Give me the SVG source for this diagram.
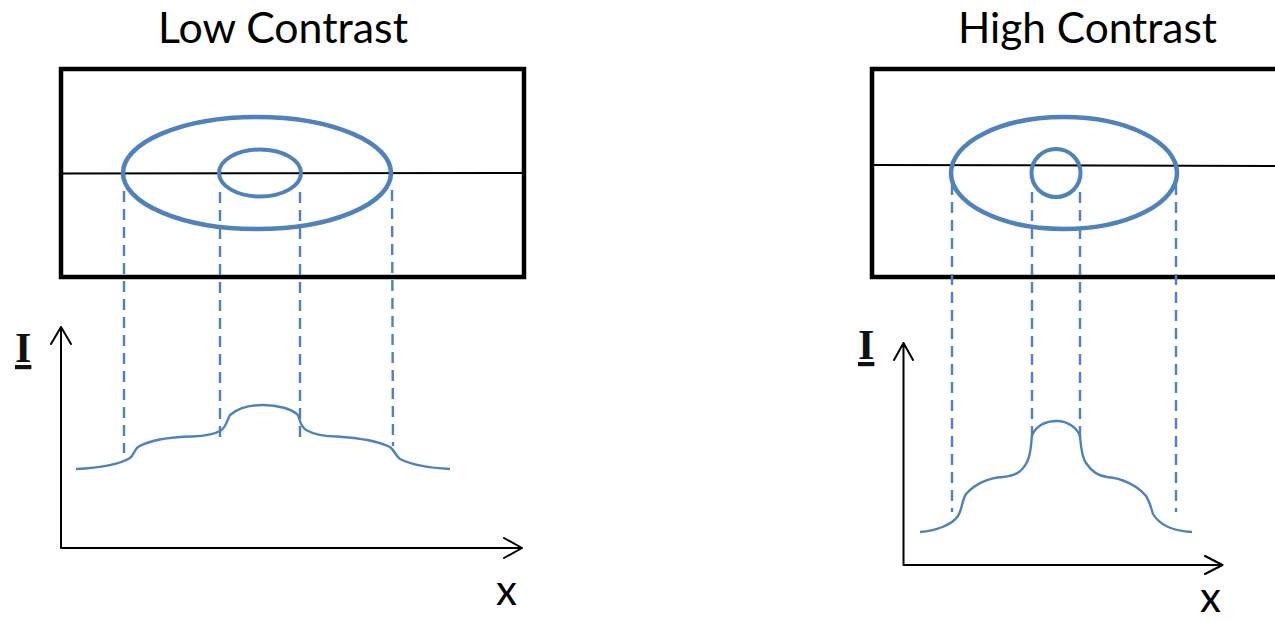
<svg xmlns="http://www.w3.org/2000/svg" width="1275" height="621" viewBox="0 0 1275 621">
<defs>
<style>
.title{font-family:Lato,"Liberation Sans",sans-serif;font-size:42px;fill:#000}
.axlab{font-family:Lato,"Liberation Sans",sans-serif;font-size:42px;fill:#000}
.ilab{font-family:"Liberation Serif",serif;font-weight:bold;font-size:42px;fill:#111;text-decoration:underline}
.frame{fill:none;stroke:#000;stroke-width:4.5}
.cut{fill:none;stroke:#000;stroke-width:2}
.ring{fill:none;stroke:#4f81bd;stroke-width:4.5}
.ring2{fill:none;stroke:#4f81bd;stroke-width:4}
.dash{fill:none;stroke:#4f81bd;stroke-width:2.4;stroke-dasharray:11,7}
.prof{fill:none;stroke:#4f81bd;stroke-width:2.4}
.axis{fill:none;stroke:#000;stroke-width:2;stroke-linecap:round;stroke-linejoin:round}
</style>
</defs>
<rect width="1275" height="621" fill="#fff"/>

<g id="low-contrast">
  <text class="title" x="158" y="43" textLength="250" lengthAdjust="spacingAndGlyphs">Low Contrast</text>
  <g id="low-image">
    <rect class="frame" x="61" y="69" width="463" height="208"/>
    <line class="cut" x1="61" y1="173.5" x2="524" y2="173"/>
    <ellipse class="ring" cx="257" cy="173" rx="134" ry="56"/>
    <ellipse class="ring2" cx="260" cy="173" rx="41" ry="23.5"/>
  </g>
  <g id="low-plot">
    <path class="axis" d="M61,548 L61,327 M51,344 L61,327 L71,344 M61,548 L522,548 M504,538 L522,548 L504,558"/>
    <text class="ilab" x="15" y="362">I</text>
    <text class="axlab" x="496" y="605">x</text>
    <path class="prof" d="M76,469 C100,468 120,464 130,458 C134,455 134,450 138,447 C150,440 170,437 192,436.5 C205,436 215,434 220,431 C226,428 227,420 230,415 C238,408 250,405 263,405 C278,405 292,409 298,415 C300,420 300,426 306,430 C315,435 325,436.5 337,436.5 C360,438 380,442 390,447 C395,451 395,455 400,459 C412,465 430,468 450,469"/>
  </g>
</g>

<g id="high-contrast">
  <text class="title" x="958" y="43" textLength="259" lengthAdjust="spacingAndGlyphs">High Contrast</text>
  <g id="high-image">
    <rect class="frame" x="872" y="69" width="430" height="208"/>
    <line class="cut" x1="872" y1="165" x2="1275" y2="166"/>
    <ellipse class="ring" cx="1064" cy="173" rx="113" ry="56"/>
    <ellipse class="ring2" cx="1056" cy="173" rx="24.5" ry="24"/>
  </g>
  <g id="high-plot">
    <path class="axis" d="M903.5,565 L903.5,343 M894,360 L903.5,343 L913,360 M903.5,565 L1222.5,565 M1205,556 L1222.5,565 L1205,574"/>
    <text class="ilab" x="858" y="359">I</text>
    <text class="axlab" x="1200" y="612">x</text>
    <path class="prof" d="M920,532 C935,531 952,525 958,516 C962,510 962,500 966,494 C975,484 988,478 1003,477 C1015,476 1022,472 1027,462 C1031,455 1031,445 1032,435 C1037,425 1046,421 1057,421 C1068,421 1077,428 1080,436 C1081,445 1081,455 1086,463 C1092,472 1098,476 1107,477 C1122,478 1138,486 1146,496 C1150,502 1151,508 1153,514 C1160,526 1175,531 1192,532"/>
  </g>
</g>

<g id="connectors">
  <line class="dash" x1="124" y1="191" x2="124" y2="453"/>
  <line class="dash" x1="220" y1="192" x2="220" y2="437"/>
  <line class="dash" x1="300" y1="192" x2="300" y2="437"/>
  <line class="dash" x1="392" y1="190" x2="393" y2="446"/>
  <line class="dash" x1="952" y1="184" x2="952" y2="512"/>
  <line class="dash" x1="1032" y1="192" x2="1032" y2="440"/>
  <line class="dash" x1="1080" y1="192" x2="1080" y2="437"/>
  <line class="dash" x1="1176" y1="184" x2="1176" y2="512"/>
</g>
</svg>
